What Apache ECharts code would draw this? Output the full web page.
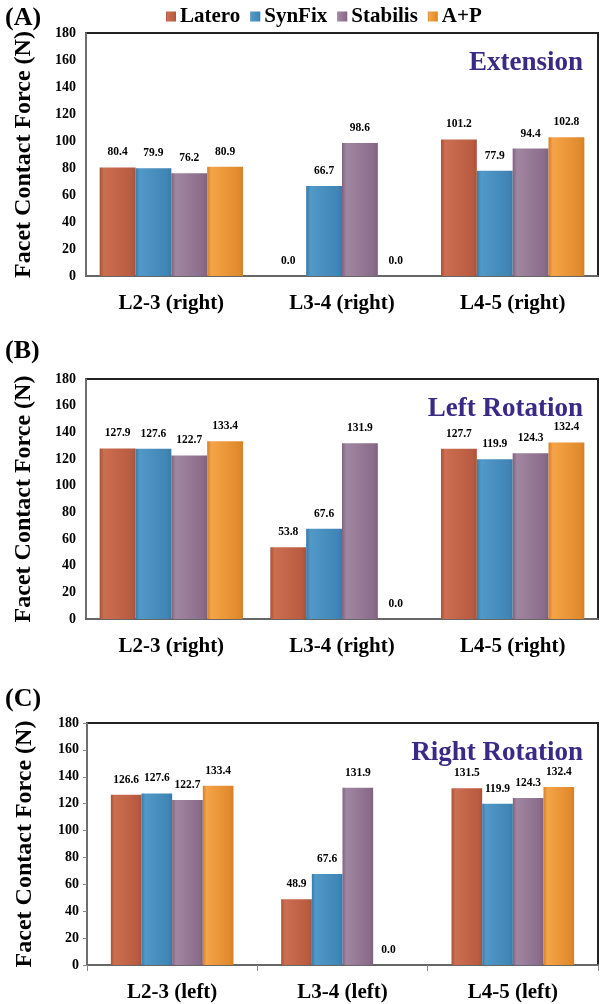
<!DOCTYPE html>
<html><head><meta charset="utf-8">
<script src="https://cdn.jsdelivr.net/npm/echarts@6/dist/echarts.min.js"></script>
<style>html,body{margin:0;padding:0;background:#fff}#c{width:600px;height:1004px}</style>
</head><body><div id="c"></div>
<script>
const seriesNames = ['Latero', 'SynFix', 'Stabilis', 'A+P'];
const catsRight = ['L2-3 (right)', 'L3-4 (right)', 'L4-5 (right)'];
const catsLeft = ['L2-3 (left)', 'L3-4 (left)', 'L4-5 (left)'];
const yTicks = [0, 20, 40, 60, 80, 100, 120, 140, 160, 180];
const panelTitles = ['Extension', 'Left Rotation', 'Right Rotation'];
const panelLetters = ['(A)', '(B)', '(C)'];

// Extension
const extLatero = [80.4, 0.0, 101.2];
const extSynFix = [79.9, 66.7, 77.9];
const extStabilis = [76.2, 98.6, 94.4];
const extAP = [80.9, 0.0, 102.8];
// Left rotation
const lrLatero = [127.9, 53.8, 127.7];
const lrSynFix = [127.6, 67.6, 119.9];
const lrStabilis = [122.7, 131.9, 124.3];
const lrAP = [133.4, 0.0, 132.4];
// Right rotation
const rrLatero = [126.6, 48.9, 131.5];
const rrSynFix = [127.6, 67.6, 119.9];
const rrStabilis = [122.7, 131.9, 124.3];
const rrAP = [133.4, 0.0, 132.4];

const panels = [
  { cats: catsRight, data: [extLatero, extSynFix, extStabilis, extAP] },
  { cats: catsRight, data: [lrLatero, lrSynFix, lrStabilis, lrAP] },
  { cats: catsLeft, data: [rrLatero, rrSynFix, rrStabilis, rrAP] }
];

// layout
const gridTops = [33, 379, 723];
const gridHeights = [243, 240, 242];
const gridLefts = [86, 86, 87];
const catGaps = ['16%', '16%', '28%'];
const letterTops = [0, 333, 681];

const FONT = '"Liberation Serif", "Times New Roman", serif';
const baseColors = [
  ['#B85B40', '#CC6E50', '#A9523A'],
  ['#3F85B5', '#5199C8', '#3A7AA8'],
  ['#8A6C8A', '#A186A1', '#7E627E'],
  ['#E08A2C', '#F5A448', '#D4802A']
];
function grad(c) {
  return new echarts.graphic.LinearGradient(0, 0, 1, 0, [
    { offset: 0, color: c[2] }, { offset: 0.12, color: c[1] },
    { offset: 0.88, color: c[0] }, { offset: 1, color: c[2] }
  ]);
}

const option = {
  animation: false,
  backgroundColor: '#fff',
  legend: {
    top: 1, left: 161,
    data: seriesNames,
    icon: 'rect', itemWidth: 10, itemHeight: 10, itemGap: 10,
    textStyle: { fontFamily: FONT, fontWeight: 'bold', fontSize: 21, color: '#000', padding: [0, 0, 0, -1] }
  },
  title: [],
  grid: [], xAxis: [], yAxis: [], series: []
};

panels.forEach((p, i) => {
  option.title.push({
    text: panelTitles[i], right: 12, top: gridTops[i] + 12,
    textStyle: { fontFamily: FONT, fontWeight: 'bold', fontSize: 27, color: '#3A2A86' }
  });
  option.title.push({
    text: panelLetters[i], left: 0, top: letterTops[i],
    textStyle: { fontFamily: FONT, fontWeight: 'bold', fontSize: 26, color: '#000' }
  });
  option.grid.push({
    left: gridLefts[i], right: 2, top: gridTops[i], height: gridHeights[i],
    show: true, borderColor: '#222', borderWidth: 2, backgroundColor: 'transparent'
  });
  option.xAxis.push({
    type: 'category', gridIndex: i, data: p.cats,
    axisLine: { lineStyle: { color: '#666', width: 2 } },
    axisTick: { show: i === 2, alignWithLabel: false, length: 6, lineStyle: { color: '#888' } },
    axisLabel: { fontFamily: FONT, fontWeight: 'bold', fontSize: 21, color: '#000', margin: 17 }
  });
  option.yAxis.push({
    type: 'value', gridIndex: i, min: yTicks[0], max: yTicks[yTicks.length - 1], interval: yTicks[1] - yTicks[0],
    name: 'Facet Contact Force (N)', nameLocation: 'middle', nameGap: 50,
    nameTextStyle: { fontFamily: FONT, fontWeight: 'bold', fontSize: 24, color: '#000' },
    axisLine: { show: true, lineStyle: { color: '#888', width: 1.5 } },
    axisTick: { show: i === 2, length: 4, lineStyle: { color: '#888' } },
    splitLine: { show: false },
    axisLabel: { fontFamily: FONT, fontWeight: 'bold', fontSize: 14, color: '#000', margin: i === 2 ? 8 : 10 }
  });
  p.data.forEach((vals, s) => {
    option.series.push({
      name: seriesNames[s], type: 'bar', xAxisIndex: i, yAxisIndex: i,
      data: vals, barGap: '0%', barCategoryGap: catGaps[i],
      itemStyle: { color: grad(baseColors[s]) },
      label: {
        show: true, position: 'top', distance: 9,
        formatter: (d) => d.value.toFixed(1),
        fontFamily: FONT, fontWeight: 'bold', fontSize: 11.5, color: '#000'
      }
    });
  });
});

const chart = echarts.init(document.getElementById('c'), null, { renderer: 'canvas' });
chart.setOption(option);
</script></body></html>
